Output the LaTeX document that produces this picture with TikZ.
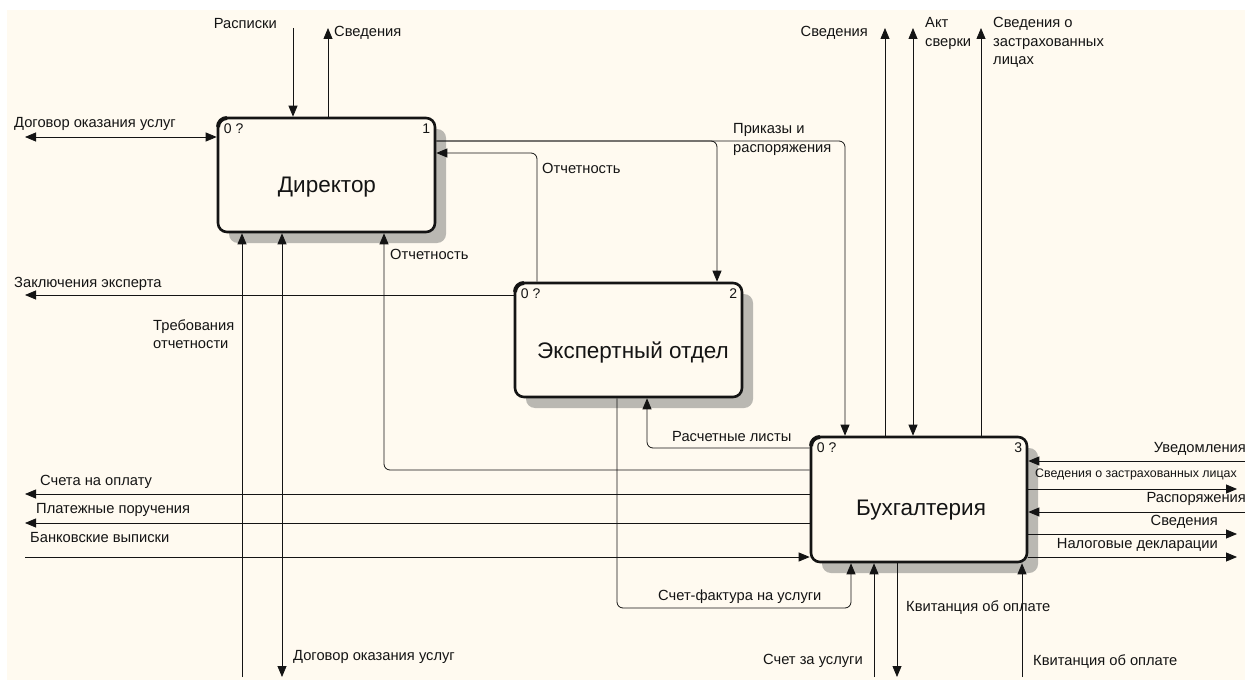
\documentclass[tikz,border=0pt]{standalone}
\usepackage{fontspec}
\setmainfont{Liberation Sans}
\usetikzlibrary{arrows.meta,shadows,calc}

\definecolor{paper}{RGB}{255,250,240}
\definecolor{shade}{RGB}{186,184,178}
\definecolor{ink}{RGB}{20,20,20}

\tikzset{
  func/.style={draw=ink, line width=2.6pt, rounded corners=9pt, fill=paper,
    inner sep=0pt, general shadow={shadow xshift=11pt, shadow yshift=-11pt, fill=shade}},
  title/.style={font=\fontsize{22.5}{26}\selectfont, text=ink, inner sep=0pt},
  tag/.style={font=\fontsize{14}{16}\selectfont, text=ink, inner sep=0pt},
  lbl/.style={font=\fontsize{14.7}{18.5}\selectfont, text=ink, inner sep=0pt, align=left},
  small/.style={font=\fontsize{12.4}{15}\selectfont, text=ink, inner sep=0pt},
  flow/.style={draw=ink, line width=0.8pt, rounded corners=6pt,
    -{Triangle[length=11pt,width=9pt]}},
  both/.style={draw=ink, line width=0.8pt,
    {Triangle[length=11pt,width=9pt]}-{Triangle[length=11pt,width=9pt]}},
  corner/.style={draw=ink, line width=4pt}
}

\begin{document}
\begin{tikzpicture}[x=1pt,y=-1pt]
\useasboundingbox (0,0) rectangle (1245,690);
\fill[white] (0,0) rectangle (1245,690);
\fill[paper] (7,10) rectangle (1245,680);

% function blocks
\node[func, minimum width=217pt, minimum height=114pt] (dir) at (326.5,175) {};
\node[func, minimum width=227pt, minimum height=114pt] (exp) at (628.5,340) {};
\node[func, minimum width=216pt, minimum height=125pt] (acc) at (919,499.5) {};

% heavier top-left corner of each block
\foreach \b in {dir,exp,acc}{
  \draw[corner] ([xshift=1.3pt,yshift=-10.3pt]\b.north west) arc (180:90:9pt);
}

\node[title] (dirT) at (327,187) {Директор};
\node[title] (expT) at (633,352) {Экспертный отдел};
\node[title] (accT) at (921,510) {Бухгалтерия};

\node[tag, anchor=west] (dirA) at ([xshift=7pt,yshift=-12pt]dir.north west) {0 ?};
\node[tag, anchor=east] (dirB) at ([xshift=-6pt,yshift=-12pt]dir.north east) {1};
\node[tag, anchor=west] (expA) at ([xshift=7pt,yshift=-12pt]exp.north west) {0 ?};
\node[tag, anchor=east] (expB) at ([xshift=-6pt,yshift=-12pt]exp.north east) {2};
\node[tag, anchor=west] (accA) at ([xshift=7pt,yshift=-12pt]acc.north west) {0 ?};
\node[tag, anchor=east] (accB) at ([xshift=-6pt,yshift=-12pt]acc.north east) {3};

% free ends of the boundary arrows
\coordinate (rasp) at (293,28);
\coordinate (svD) at (328,28);
\coordinate (dogL) at (25,137);
\coordinate (treb) at (242,677);
\coordinate (dogB) at (282,677);
\coordinate (zakl) at (25,295);
\coordinate (schet) at (25,494);
\coordinate (plat) at (25,523);
\coordinate (bank) at (25,557);
\coordinate (svA) at (885,28);
\coordinate (akt) at (913,28);
\coordinate (svZ) at (981,28);
\coordinate (uved) at (1245,461);
\coordinate (svZr) at (1237,489);
\coordinate (rasr) at (1245,512);
\coordinate (svR) at (1237,534);
\coordinate (nal) at (1237,557);
\coordinate (schU) at (874,677);
\coordinate (kvit) at (897,677);
\coordinate (kvit2) at (1022,677);

% Director
\draw[flow] (rasp) -- (293,0 |- dir.north);
\draw[flow] (328,0 |- dir.north) -- (svD);
\draw[both] (dogL) -- (dir.west |- dogL);
\draw[flow] (treb) -- (242,0 |- dir.south);
\draw[both] (dogB) -- (282,0 |- dir.south);
\draw[flow] (acc.west |- 0,470) -- (384,470) -- (384,0 |- dir.south);
\draw[flow] (dir.east |- 0,141) -- (845,141) -- (845,0 |- acc.north);
\draw[flow] (dir.east |- 0,141) -- (717,141) -- (717,0 |- exp.north);
\draw[flow] (537,0 |- exp.north) -- (537,153) -- (dir.east |- 0,153);

% Expert department
\draw[flow] (exp.west |- zakl) -- (zakl);
\draw[flow] (617,0 |- exp.south) -- (617,608) -- (851,608) -- (851,0 |- acc.south);
\draw[flow] (acc.west |- 0,448) -- (647,448) -- (647,0 |- exp.south);

% Accounting, left side
\draw[flow] (acc.west |- schet) -- (schet);
\draw[flow] (acc.west |- plat) -- (plat);
\draw[flow] (bank) -- (acc.west |- bank);

% Accounting, top
\draw[flow] (885,0 |- acc.north) -- (svA);
\draw[both] (akt) -- (913,0 |- acc.north);
\draw[flow] (981,0 |- acc.north) -- (svZ);

% Accounting, right side
\draw[flow] (uved) -- (acc.east |- uved);
\draw[flow] (acc.east |- svZr) -- (svZr);
\draw[flow] (rasr) -- (acc.east |- rasr);
\draw[flow] (acc.east |- svR) -- (svR);
\draw[flow] (acc.east |- nal) -- (nal);

% Accounting, bottom
\draw[flow] (schU) -- (874,0 |- acc.south);
\draw[flow] (897,0 |- acc.south) -- (kvit);
\draw[flow] (kvit2) -- (1022,0 |- acc.south);

% arrow labels
\node[lbl, anchor=east] (lRasp) at (277,24) {Расписки};
\node[lbl, anchor=west] (lSvD) at (334,33) {Сведения};
\node[lbl, anchor=west] (lDogL) at (14,124) {Договор оказания услуг};
\node[lbl, anchor=west] (lOtch1) at (390,254) {Отчетность};
\node[lbl, anchor=west] (lOtch2) at (542,168) {Отчетность};
\node[lbl, anchor=west] (lPrik) at (733,139.5) {Приказы и\\распоряжения};
\node[lbl, anchor=west] (lZakl) at (14,284) {Заключения эксперта};
\node[lbl, anchor=west] (lTreb) at (153,334) {Требования\\отчетности};
\node[lbl, anchor=east] (lSvA) at (868,33) {Сведения};
\node[lbl, anchor=west] (lAkt) at (925,33.5) {Акт\\сверки};
\node[lbl, anchor=west] (lSvZ) at (993,42.5) {Сведения о\\застрахованных\\лицах};
\node[lbl, anchor=west] (lRasch) at (672,437) {Расчетные листы};
\node[lbl, anchor=west] (lSchet) at (40,482) {Счета на оплату};
\node[lbl, anchor=west] (lPlat) at (36,510) {Платежные поручения};
\node[lbl, anchor=west] (lBank) at (30,538) {Банковские выписки};
\node[lbl, anchor=east] (lUved) at (1246,449) {Уведомления};
\node[small, anchor=west] (lSvZr) at (1035,474) {Сведения о застрахованных лицах};
\node[lbl, anchor=east] (lRasr) at (1246,499) {Распоряжения};
\node[lbl, anchor=east] (lSvR) at (1218,522) {Сведения};
\node[lbl, anchor=east] (lNal) at (1218,545) {Налоговые декларации};
\node[lbl, anchor=west] (lSF) at (658,597) {Счет-фактура на услуги};
\node[lbl, anchor=west] (lKv) at (906,608) {Квитанция об оплате};
\node[lbl, anchor=east] (lSchU) at (863,661) {Счет за услуги};
\node[lbl, anchor=west] (lKv2) at (1033,662) {Квитанция об оплате};
\node[lbl, anchor=west] (lDogB) at (293,657) {Договор оказания услуг};
\end{tikzpicture}
\end{document}
